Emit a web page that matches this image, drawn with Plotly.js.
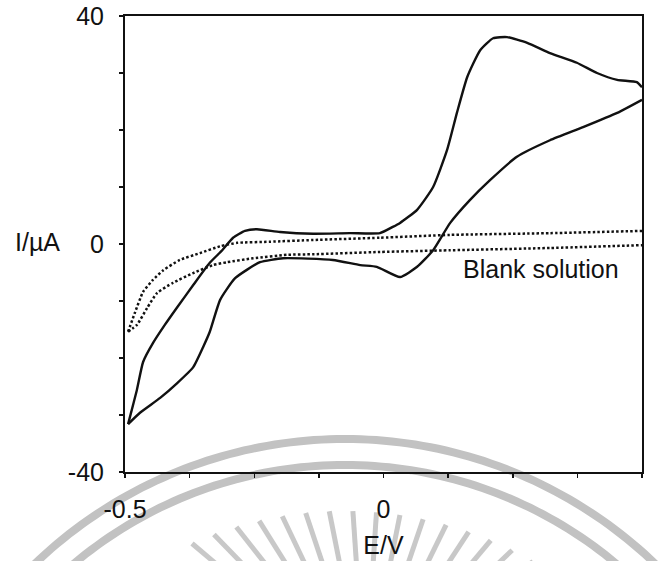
<!DOCTYPE html>
<html>
<head>
<meta charset="utf-8">
<script src="https://cdn.plot.ly/plotly-3.0.1.min.js"></script>
<style>
  html, body { margin: 0; padding: 0; background: #fff; }
  #chart { width: 658px; height: 561px; }
</style>
</head>
<body>
<div id="chart"></div>
<script>
// Cyclic voltammogram: forward (upper) and return (lower) branches, E in V, I in µA
const anodicE = [0.500, 0.490, 0.452, 0.413, 0.374, 0.322, 0.278, 0.239, 0.212, 0.187,
                 0.162, 0.142, 0.123, 0.096, 0.065, 0.032, 0.018, -0.007, -0.065, -0.136,
                 -0.200, -0.245, -0.268, -0.291, -0.312, -0.336, -0.368, -0.399, -0.423, -0.446,
                 -0.465, -0.477, -0.490, -0.494];
const anodicI = [27.5, 28.4, 28.8, 30.0, 31.8, 33.5, 35.3, 36.3, 36.1, 34.0,
                 29.3, 23.0, 16.5, 10.0, 6.0, 3.7, 3.0, 1.9, 1.9, 1.8,
                 2.1, 2.6, 2.3, 1.1, -1.1, -3.3, -7.2, -11.1, -14.2, -17.4,
                 -20.7, -25.6, -30.2, -31.6];

const cathodicE = [-0.494, -0.471, -0.432, -0.399, -0.368, -0.349, -0.336, -0.316, -0.287, -0.239,
                   -0.194, -0.098, -0.045, -0.013, 0.032, 0.065, 0.096, 0.129, 0.167, 0.206,
                   0.258, 0.322, 0.386, 0.452, 0.500];
const cathodicI = [-31.6, -29.6, -27.0, -24.4, -21.6, -18.1, -15.4, -9.8, -6.0, -3.2,
                   -2.5, -2.8, -3.7, -4.0, -5.8, -4.0, -1.1, 3.7, 7.7, 11.2,
                   15.3, 18.2, 20.5, 23.0, 25.3];

// Blank solution (background electrolyte) loop
const blankUpperE = [-0.494, -0.481, -0.465, -0.446, -0.426, -0.394, -0.355, -0.316, -0.283, -0.220,
                     -0.136, -0.007, 0.129, 0.322, 0.500];
const blankUpperI = [-15.4, -12.1, -8.4, -6.3, -4.6, -2.8, -1.6, -0.4, 0.2, 0.4,
                     0.7, 1.1, 1.6, 1.9, 2.3];
const blankLowerE = [-0.494, -0.477, -0.457, -0.438, -0.407, -0.368, -0.330, -0.303, -0.252, -0.187,
                     -0.136, -0.007, 0.129, 0.322, 0.500];
const blankLowerI = [-15.4, -14.2, -11.2, -8.6, -6.8, -5.1, -3.7, -3.2, -2.5, -1.9,
                     -1.8, -1.4, -1.1, -0.7, -0.2];

// Axis ticks and labels
const xTickVals = [-0.5, -0.375, -0.25, -0.125, 0, 0.125, 0.25, 0.375, 0.5];
const xTickText = ['-0.5', '', '', '', '0', '', '', '', '0.5'];
const yTickVals = [-40, -30, -20, -10, 0, 10, 20, 30, 40];
const yTickText = ['-40', '', '', '', '0', '', '', '', '40'];

const FONT = 'Liberation Sans, Arial, Helvetica, sans-serif';
const INK = '#111111';

const solid = { color: INK, width: 2.4, shape: 'spline', smoothing: 0.5 };
const dotted = { color: INK, width: 2.5, dash: '2.5px,2.2px', shape: 'spline', smoothing: 0.5 };

const traces = [
  { x: blankUpperE, y: blankUpperI, mode: 'lines', line: dotted, hoverinfo: 'skip' },
  { x: blankLowerE, y: blankLowerI, mode: 'lines', line: dotted, hoverinfo: 'skip' },
  { x: anodicE, y: anodicI, mode: 'lines', line: solid, hoverinfo: 'skip' },
  { x: cathodicE, y: cathodicI, mode: 'lines', line: solid, hoverinfo: 'skip' }
];

// Page geometry (px) used for the background seal decoration
const M = { l: 125, r: 16, t: 16, b: 89 };
const W = 658, H = 561;
const PW = W - M.l - M.r, PH = H - M.t - M.b;
function toPaper(px, py) {
  return [((px - M.l) / PW).toFixed(4), ((H - M.b - py) / PH).toFixed(4)];
}
function pathOf(pts) {
  return 'M' + pts.map(p => toPaper(p[0], p[1]).join(',')).join('L');
}

const seal = [];
const SEAL_CX = 345, SEAL_CY = 887;
// two concentric rings
[[448, 8], [422, 8]].forEach(([R, w]) => {
  const pts = [];
  for (let t = -58; t <= 58; t += 1) {
    const a = t * Math.PI / 180;
    pts.push([SEAL_CX + R * Math.sin(a), SEAL_CY - R * Math.cos(a)]);
  }
  seal.push({ type: 'path', xref: 'paper', yref: 'paper', layer: 'below',
              path: pathOf(pts), line: { color: '#c2c2c2', width: w } });
});
// sunburst rays: tips on an inner circle, each aimed at the sun's core
const CORE = [365, 690];
for (let i = -8; i <= 7; i++) {
  const phi = (3 + (i + 0.5) * 3.6) * Math.PI / 180;
  const tip = [SEAL_CX + 376 * Math.sin(phi), SEAL_CY - 376 * Math.cos(phi)];
  const dx = CORE[0] - tip[0], dy = CORE[1] - tip[1];
  const d = Math.hypot(dx, dy);
  const end = [tip[0] + 80 * dx / d, tip[1] + 80 * dy / d];
  seal.push({ type: 'path', xref: 'paper', yref: 'paper', layer: 'below',
              path: pathOf([tip, end]), line: { color: '#c8c8c8', width: 5 } });
}

const layout = {
  width: W, height: H,
  margin: M,
  paper_bgcolor: '#ffffff',
  plot_bgcolor: '#ffffff',
  showlegend: false,
  font: { family: FONT, size: 25, color: INK },
  xaxis: {
    range: [-0.5, 0.5],
    tickmode: 'array', tickvals: xTickVals, ticktext: xTickText,
    ticks: 'outside', ticklen: 4, tickwidth: 1.5, tickcolor: INK,
    ticklabelstandoff: 10,
    showline: true, linecolor: INK, linewidth: 2, mirror: true,
    showgrid: false, zeroline: false,
    tickfont: { family: FONT, size: 25, color: INK },
    title: { text: 'E/V', font: { family: FONT, size: 25, color: INK }, standoff: 14 }
  },
  yaxis: {
    range: [-40, 40],
    tickmode: 'array', tickvals: yTickVals, ticktext: yTickText,
    ticks: 'outside', ticklen: 4, tickwidth: 1.5, tickcolor: INK,
    ticklabelstandoff: 10,
    showline: true, linecolor: INK, linewidth: 2, mirror: true,
    showgrid: false, zeroline: false,
    tickfont: { family: FONT, size: 25, color: INK }
  },
  annotations: [
    { text: 'I/\u00b5A', xref: 'paper', yref: 'y', x: -0.216, y: 0.4,
      xanchor: 'left', yanchor: 'middle', showarrow: false,
      font: { family: FONT, size: 25, color: INK } },
    { text: 'Blank solution', xref: 'x', yref: 'y', x: 0.150, y: -4.3,
      xanchor: 'left', yanchor: 'middle', showarrow: false,
      font: { family: FONT, size: 25, color: INK } }
  ],
  shapes: seal
};

Plotly.newPlot('chart', traces, layout, { displayModeBar: false, staticPlot: true });
</script>
</body>
</html>
